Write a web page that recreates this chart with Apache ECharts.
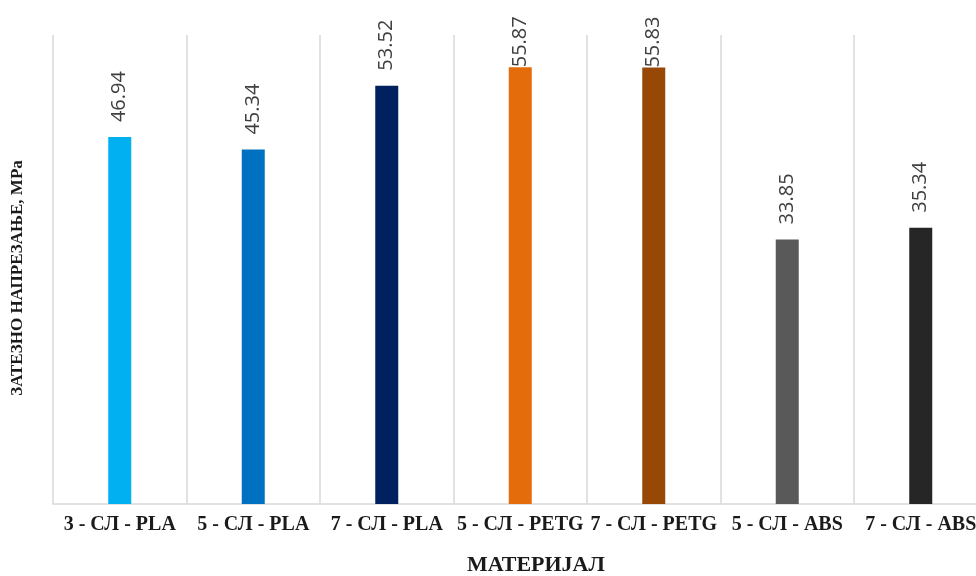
<!DOCTYPE html>
<html>
<head>
<meta charset="utf-8">
<script src="https://cdn.jsdelivr.net/npm/echarts@6/dist/echarts.min.js"></script>
<style>
  html, body { margin: 0; padding: 0; background: #fff; overflow: hidden; }
  #chart { width: 976px; height: 576px; }
</style>
</head>
<body>
<div id="chart"></div>
<script>
// Tensile strength per material / layer count
const categories = ['3 - СЛ - PLA', '5 - СЛ - PLA', '7 - СЛ - PLA', '5 - СЛ - PETG', '7 - СЛ - PETG', '5 - СЛ - ABS', '7 - СЛ - ABS'];
const strength = [46.94, 45.34, 53.52, 55.87, 55.83, 33.85, 35.34];
const barColors = ['#00B0F0', '#0070C0', '#002060', '#E46C0A', '#974806', '#595959', '#262626'];
// tallest bars keep their labels inside the chart top, so they sit directly on the bar
const labelGap = [15, 15, 15, 0, 0, 15, 15];

const chart = echarts.init(document.getElementById('chart'), null, { renderer: 'canvas' });

chart.setOption({
  animation: false,
  // the plot extends slightly past the right edge of the canvas
  grid: { left: 53, width: 934.5, top: 35, bottom: 72, outerBoundsMode: 'none', containLabel: false },
  xAxis: {
    type: 'category',
    data: categories,
    boundaryGap: true,
    axisLine: { show: true, lineStyle: { color: '#d9d9d9', width: 1.5 } },
    axisTick: { show: false },
    splitLine: { show: true, lineStyle: { color: '#d9d9d9', width: 1.5 } },
    axisLabel: {
      interval: 0,
      margin: 11,
      hideOverlap: false,
      fontFamily: 'Liberation Serif',
      fontWeight: 'bold',
      fontSize: 20,
      color: '#1a1a1a'
    }
  },
  yAxis: {
    type: 'value',
    min: 0,
    max: 60,
    show: false,
    splitLine: { show: false }
  },
  series: [{
    type: 'bar',
    data: strength.map((v, i) => ({
      value: v,
      itemStyle: { color: barColors[i] },
      label: { distance: labelGap[i] }
    })),
    barWidth: 23,
    label: {
      show: true,
      position: 'top',
      rotate: 90,
      align: 'left',
      verticalAlign: 'middle',
      fontFamily: 'Open Sans',
      fontSize: 20,
      color: '#404040',
      formatter: p => p.value.toFixed(2)
    }
  }],
  graphic: [
    {
      type: 'text',
      left: 467,
      top: 554,
      style: {
        text: 'МАТЕРИЈАЛ',
        fontFamily: 'Liberation Serif',
        fontWeight: 'bold',
        fontSize: 22,
        fill: '#1a1a1a'
      }
    },
    {
      type: 'text',
      x: 18,
      y: 278,
      rotation: Math.PI / 2,
      style: {
        text: 'ЗАТЕЗНО НАПРЕЗАЊЕ, MPa',
        fontFamily: 'Liberation Serif',
        fontWeight: 'bold',
        fontSize: 17,
        fill: '#1a1a1a',
        align: 'center',
        verticalAlign: 'middle'
      }
    }
  ]
});
</script>
</body>
</html>
